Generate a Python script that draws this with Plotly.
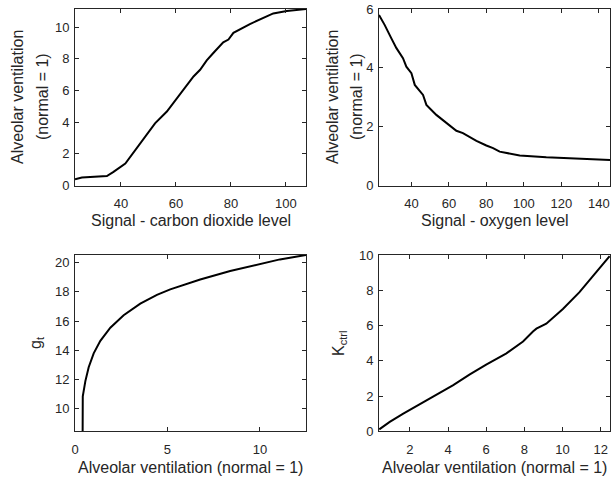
import plotly.graph_objects as go

# ---- Data ----
co2_x = [23.3, 25.8, 34.9, 37.3, 41.6, 43.4, 47.0, 50.6, 52.4, 56.7, 60.3, 64.0, 66.4,
         68.8, 71.2, 73.6, 74.8, 77.2, 79.1, 80.9, 86.9, 93.0, 95.4, 100.3, 105.7, 107.3]
co2_y = [0.39, 0.50, 0.60, 0.86, 1.39, 1.81, 2.66, 3.50, 3.93, 4.67, 5.52, 6.32, 6.89,
         7.31, 7.90, 8.37, 8.58, 9.05, 9.22, 9.64, 10.20, 10.70, 10.87, 11.02, 11.12, 11.15]

o2_x = [22.7, 25.7, 29.3, 32.0, 35.5, 37.3, 40.0, 41.8, 46.2, 48.0, 53.3, 58.7, 64.0,
        67.5, 74.7, 80.0, 83.6, 87.1, 90.7, 97.8, 112.0, 129.9, 146.0]
o2_y = [5.80, 5.46, 5.00, 4.67, 4.33, 4.04, 3.82, 3.42, 3.08, 2.74, 2.40, 2.12, 1.86,
        1.78, 1.52, 1.36, 1.27, 1.15, 1.10, 1.02, 0.96, 0.91, 0.87]

gt_x = [0.41, 0.42, 0.56, 0.74, 1.01, 1.37, 1.91, 2.63, 3.53, 4.43, 5.15, 6.23,
        6.77, 8.39, 10.01, 11.08, 12.49]
gt_y = [7.50, 10.86, 11.90, 12.85, 13.80, 14.65, 15.55, 16.40, 17.20, 17.80, 18.17, 18.65,
        18.85, 19.42, 19.93, 20.22, 20.52]

k_x = [0.39, 0.94, 1.65, 2.52, 3.39, 4.27, 5.14, 6.02, 7.06, 7.93, 8.45, 8.63, 9.15,
       10.02, 10.89, 11.77, 12.47]
k_y = [0.11, 0.53, 1.00, 1.54, 2.05, 2.62, 3.23, 3.80, 4.42, 5.09, 5.66, 5.82, 6.10,
       6.94, 7.89, 9.00, 9.94]

x_titles = ["Signal - carbon dioxide level", "Signal - oxygen level",
            "Alveolar ventilation (normal = 1)", "Alveolar ventilation (normal = 1)"]
y_title_top = ["Alveolar ventilation", "(normal = 1)"]
y_title_bl = "g<sub>t</sub>"
y_title_br = "K<sub>ctrl</sub>"

FONT = "Arial, Liberation Sans, sans-serif"
AX_COL = "#262626"
W, H = 612, 482

fig = go.Figure()
line = dict(color="black", width=2)
fig.add_trace(go.Scatter(x=co2_x, y=co2_y, mode="lines", line=line, xaxis="x", yaxis="y"))
fig.add_trace(go.Scatter(x=o2_x, y=o2_y, mode="lines", line=line, xaxis="x2", yaxis="y2"))
fig.add_trace(go.Scatter(x=gt_x, y=gt_y, mode="lines", line=line, xaxis="x3", yaxis="y3"))
fig.add_trace(go.Scatter(x=k_x, y=k_y, mode="lines", line=line, xaxis="x4", yaxis="y4"))


def ax(domain, rng, tickvals, anchor, standoff):
    return dict(
        domain=domain, range=rng, tickvals=tickvals, anchor=anchor, automargin=False,
        showgrid=False, zeroline=False, showline=True, linecolor=AX_COL, linewidth=1,
        mirror="ticks", ticks="inside", ticklen=4, tickcolor=AX_COL, tickwidth=1,
        ticklabelstandoff=standoff,
        tickfont=dict(family=FONT, size=13, color=AX_COL),
    )


xl = [75 / W, 306 / W]
xr = [379 / W, 610 / W]
yt = [1 - 185.5 / H, 1 - 9 / H]
yb = [1 - 431.3 / H, 1 - 255 / H]

tfont = dict(family=FONT, size=16, color=AX_COL)


def ann(text, px, py, angle=0):
    return dict(text=text, x=px / W, y=1 - py / H, xref="paper", yref="paper",
                xanchor="center", yanchor="middle", showarrow=False,
                textangle=angle, font=tfont)


annotations = [
    ann(x_titles[0], 190.5, 221),
    ann(x_titles[1], 494.5, 221),
    ann(x_titles[2], 190.5, 467),
    ann(x_titles[3], 494.5, 467),
    ann(y_title_top[0], 18, 97, -90),
    ann(y_title_top[1], 43, 97, -90),
    ann(y_title_top[0], 333, 97, -90),
    ann(y_title_top[1], 357, 97, -90),
    ann(y_title_bl, 36, 343, -90),
    ann(y_title_br, 339, 343, -90),
]

XS, YS = 6, 2
fig.update_layout(
    width=W, height=H, showlegend=False,
    margin=dict(l=0, r=0, t=0, b=0, autoexpand=False),
    paper_bgcolor="white", plot_bgcolor="white",
    font=dict(family=FONT, color=AX_COL),
    xaxis=ax(xl, [23.3, 107.3], [40, 60, 80, 100], "y", XS),
    yaxis=ax(yt, [0, 11.15], [0, 2, 4, 6, 8, 10], "x", YS),
    xaxis2=ax(xr, [22.7, 146], [40, 60, 80, 100, 120, 140], "y2", XS),
    yaxis2=ax(yt, [0, 6], [0, 2, 4, 6], "x2", YS),
    xaxis3=ax(xl, [0, 12.49], [0, 5, 10], "y3", XS),
    yaxis3=ax(yb, [8.47, 20.52], [10, 12, 14, 16, 18, 20], "x3", YS),
    xaxis4=ax(xr, [0.377, 12.49], [2, 4, 6, 8, 10, 12], "y4", XS),
    yaxis4=ax(yb, [0, 10], [0, 2, 4, 6, 8, 10], "x4", YS),
    annotations=annotations,
)

fig.write_html("out.html", config={"displayModeBar": False},
               post_script="document.body.style.margin='0';")
